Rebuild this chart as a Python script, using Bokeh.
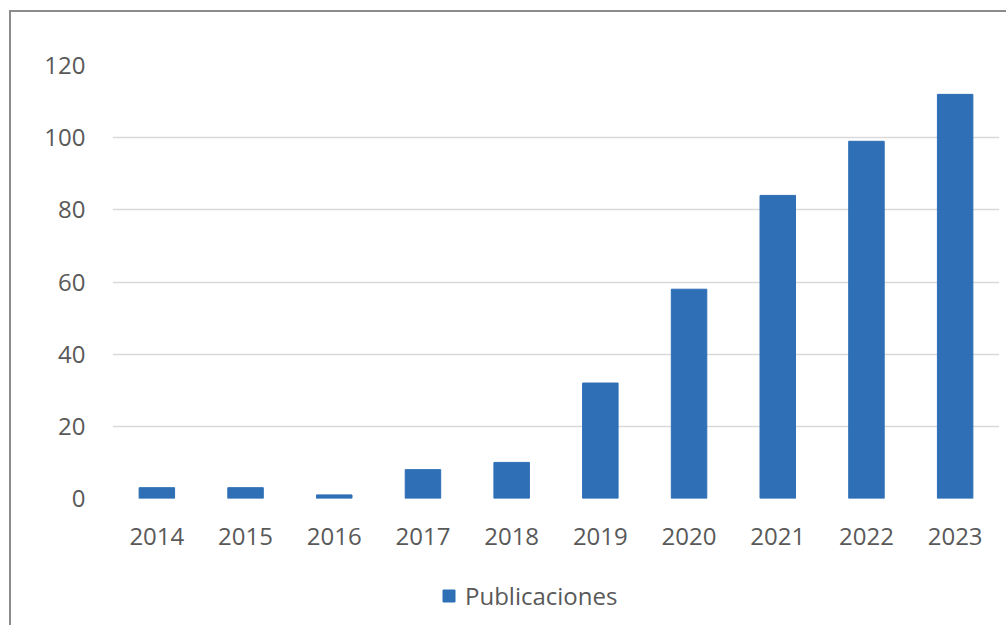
from bokeh.plotting import figure
from bokeh.layouts import column
from bokeh.models import Range1d, FactorRange, Legend, LegendItem, ColumnDataSource
from bokeh.embed import file_html
from bokeh.resources import INLINE

years = ["2014", "2015", "2016", "2017", "2018", "2019", "2020", "2021", "2022", "2023"]
publicaciones = [3, 3, 1, 8, 10, 32, 58, 84, 99, 112]
y_ticks = [0, 20, 40, 60, 80, 100, 120]
series_name = "Publicaciones"

FONT = "Open Sans"
TXT = "#595959"
BLUE = "#2E6FB6"

src = ColumnDataSource(dict(x=years, y=publicaciones))

p = figure(width=995, height=553, output_backend="svg", toolbar_location=None,
           x_range=FactorRange(*years, range_padding=0), y_range=Range1d(0, 120),
           min_border_left=101, min_border_right=7, min_border_top=53, min_border_bottom=67)
p.outline_line_color = None
p.background_fill_color = "white"
p.border_fill_color = "white"

r = p.vbar(x="x", top="y", width=0.4, source=src, fill_color=BLUE, line_color=BLUE)

p.xgrid.grid_line_color = None
p.ygrid.grid_line_color = "#d9d9d9"
p.ygrid.grid_line_width = 1.5
p.yaxis.ticker = y_ticks

for ax in (p.xaxis[0], p.yaxis[0]):
    ax.axis_line_color = None
    ax.major_tick_line_color = None
    ax.minor_tick_line_color = None
    ax.major_tick_out = 0
    ax.major_tick_in = 0
    ax.major_label_text_font = FONT
    ax.major_label_text_font_size = "24px"
    ax.major_label_text_color = TXT
p.yaxis.major_label_standoff = 27
p.xaxis.major_label_standoff = 29

# legend strip (hidden renderer sharing the series source, only its legend entry shows)
lg = figure(width=995, height=60, output_backend="svg", toolbar_location=None,
            x_axis_type=None, y_axis_type=None, x_range=FactorRange(*years, range_padding=0),
            y_range=Range1d(0, 120), min_border=0)
lg.outline_line_color = None
lg.grid.grid_line_color = None
lr = lg.vbar(x="x", top="y", width=0.4, source=src, fill_color=BLUE, line_color=BLUE)
lr.visible = False
legend = Legend(items=[LegendItem(label=series_name, renderers=[lr])],
                location=(329, 13), orientation="horizontal",
                glyph_width=15, glyph_height=15, label_text_font=FONT,
                label_text_font_size="24px", label_text_color=TXT,
                border_line_color=None, background_fill_alpha=0,
                inactive_fill_alpha=0,
                padding=0, margin=0, spacing=0, label_standoff=9)
lg.add_layout(legend, "center")

layout = column(p, lg, spacing=0)
layout.styles = {"border-left": "2px solid #8c8c8c", "border-top": "2px solid #8c8c8c",
                 "margin-left": "9px", "margin-top": "10px", "background": "white"}

open("out.html", "w").write(file_html(layout, INLINE))
